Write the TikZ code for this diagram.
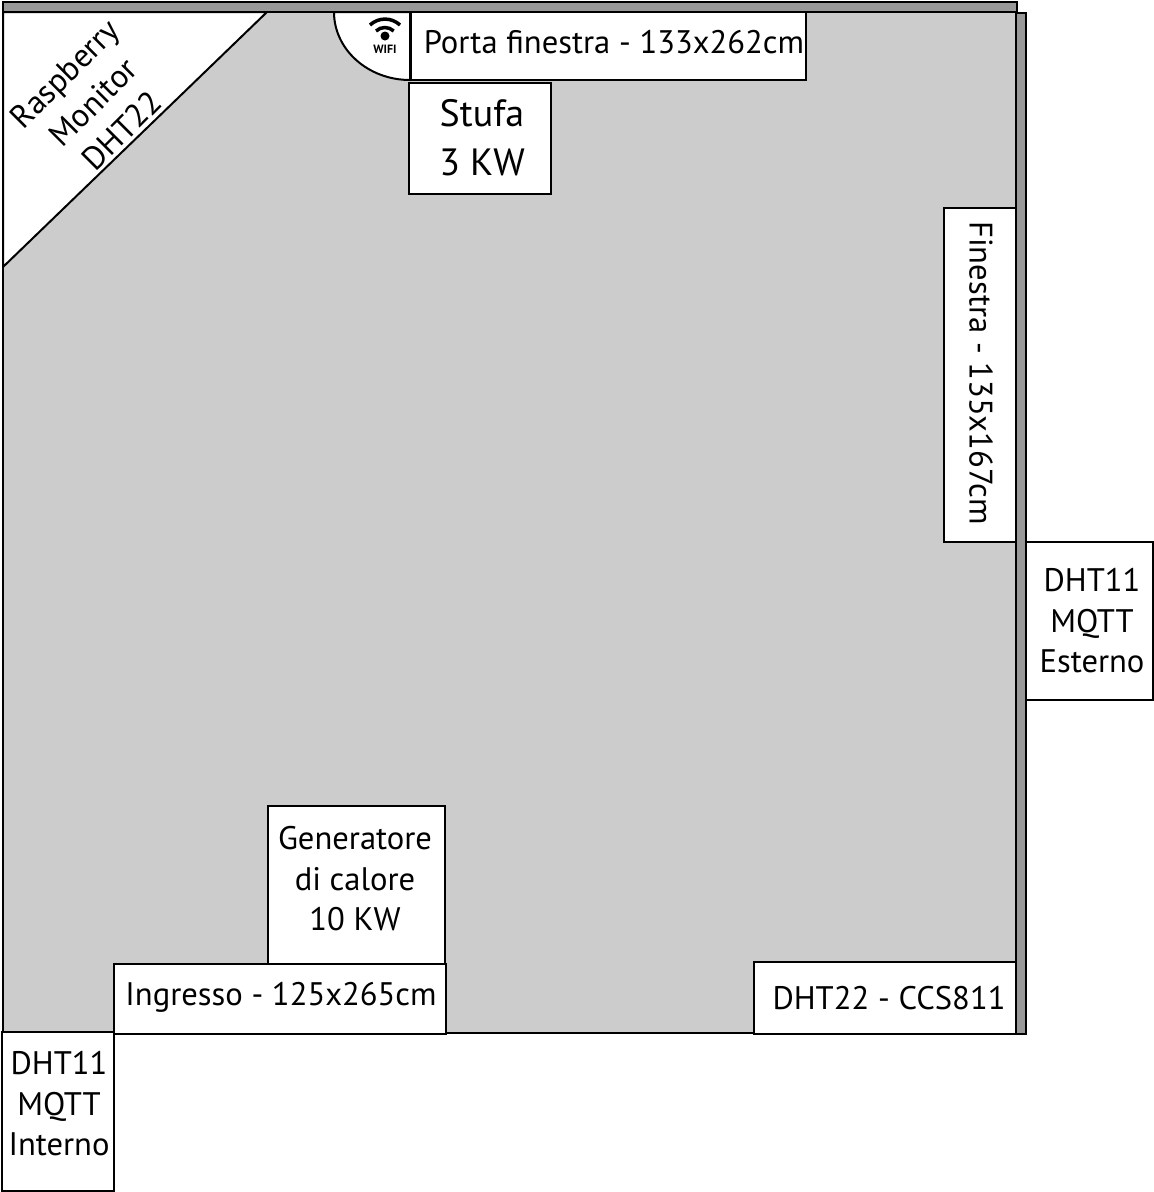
\documentclass[tikz,border=0pt]{standalone}
\usepackage{fontspec}
\setmainfont{PT Sans}
\usepackage{xcolor}
\usetikzlibrary{positioning,calc}
\definecolor{roomgray}{HTML}{CCCCCC}
\definecolor{wallgray}{HTML}{999999}
\tikzset{
    wall/.style={draw=black, fill=wallgray, line width=2pt},
    roombox/.style={draw=black, fill=white, line width=2pt, inner sep=0pt},
    roomtext/.style={inner sep=0pt, align=center, font=\fontsize{32.6}{40.5}\selectfont},
    bigtext/.style={inner sep=0pt, align=center, font=\fontsize{38}{49}\selectfont}
}
\begin{document}
\begin{tikzpicture}[x=1pt, y=-1pt]
    \useasboundingbox (0,0) rectangle (1154,1192);

    % room and walls
    \fill[roomgray] (3,12) rectangle (1016,1033);
    \draw[wall] (3,2) rectangle (1017,12);
    \draw[wall] (1016,13) rectangle (1026,1034);
    \draw[line width=2pt] (3,2) -- (3,1033) -- (1016,1033);

    % corner with the monitor
    \draw[line width=2pt, fill=white] (3,12) -- (267,12) -- (3,267) -- cycle;
    \node[roomtext, rotate=45] (monitor) at (93,102) {Raspberry\\Monitor\\DHT22};

    % door swing and wifi
    \draw[line width=2pt, fill=white] (334,12) arc[start angle=180, end angle=270, x radius=76, y radius=-68] -- (410,12) -- cycle;
    \fill (385,36) circle (4.5);
    \draw[line width=3.5pt] (370,25) arc[start angle=-133, end angle=-47, radius=22];
    \draw[line width=3.5pt] (376,31) arc[start angle=-133, end angle=-47, radius=13];
    \node[inner sep=0pt, font=\fontsize{12}{14}\selectfont\bfseries] (wifi) at (385,49) {WIFI};

    % boxes
    \node[roombox, minimum width=395, minimum height=68] (porta) at (608.5,46) {};
    \node[roomtext] (portatext) at (614,42) {Porta finestra - 133x262cm};
    \node[roombox, minimum width=142, minimum height=111] (stufa) at (480,138.5) {};
    \node[bigtext] (stufatext) at (482,138) {Stufa\\3 KW};
    \node[roombox, minimum width=72, minimum height=334] (finestra) at (980,375) {};
    \node[roomtext, rotate=-90] (finestratext) at (981,373) {Finestra - 135x167cm};
    \node[roombox, minimum width=127, minimum height=158] (esterno) at (1089.5,621) {};
    \node[roomtext] (esternotext) at (1092,621) {DHT11\\MQTT\\Esterno};
    \node[roombox, minimum width=177, minimum height=158] (generatore) at (356.5,885) {};
    \node[roomtext] (generatoretext) at (355,879) {Generatore\\di calore\\10 KW};
    \node[roombox, minimum width=332, minimum height=70] (ingresso) at (280,999) {};
    \node[roomtext] (ingressotext) at (281,997) {Ingresso - 125x265cm};
    \node[roombox, minimum width=262, minimum height=72] (sensore) at (885,998) {};
    \node[roomtext] (sensoretext) at (889,998) {DHT22 - CCS811};
    \node[roombox, minimum width=112, minimum height=159] (interno) at (58,1111.5) {};
    \node[roomtext] (internotext) at (59,1104) {DHT11\\MQTT\\Interno};
\end{tikzpicture}
\end{document}
